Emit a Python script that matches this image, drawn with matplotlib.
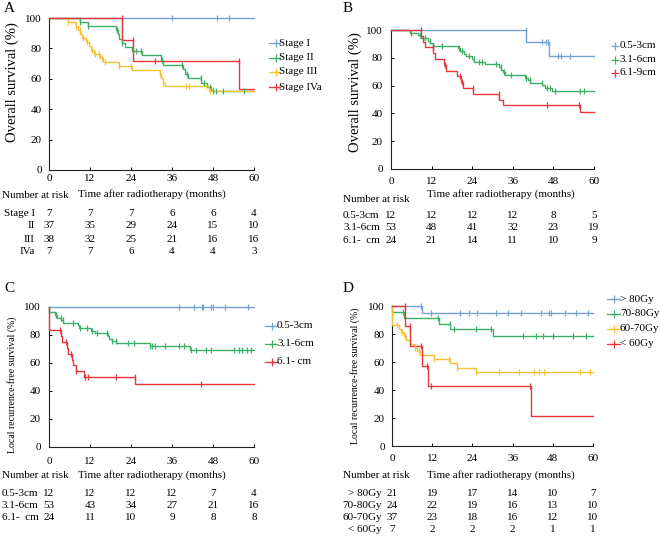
import numpy as np
import matplotlib
matplotlib.use('Agg')
import matplotlib.pyplot as plt
from matplotlib.transforms import blended_transform_factory as btf

plt.rcParams['font.family'] = ['Liberation Serif', 'DejaVu Serif']

W, H = 660, 539
BLUE = '#74a3d6'
GREEN = '#3cb066'
YELLOW = '#f6c232'
RED = '#e8363c'

months = [0, 12, 24, 36, 48, 60]
yticks = [0, 20, 40, 60, 80, 100]

# ---------------- Panel A: Overall survival by stage ----------------
a_labels = ['Stage I', 'Stage II', 'Stage III', 'Stage IVa']
a1_t = [0]
a1_s = [100]
a1_c = [36, 49.3, 52.7]
a2_t = [0, 9, 11.5, 19.7, 20.1, 20.5, 21.3, 22.2, 24.4, 27.3, 32.8, 33.3, 39.3, 39.9, 40.6, 44.6, 46.1, 47.3]
a2_s = [100, 97.3, 94.6, 91.9, 89.2, 86.5, 83.8, 81.1, 78.4, 75.7, 72.4, 69.4, 66.5, 63.4, 60.3, 57.5, 54.6, 51.8]
a2_c = [9, 11.5, 20, 21.5, 24.5, 25.5, 27, 33, 39, 40.5, 44.5, 45.5, 47, 48, 49, 51, 57]
a3_t = [0, 5.5, 7.8, 8.4, 9.1, 9.8, 10.7, 11.6, 12.3, 13.2, 14.8, 15.7, 20.5, 24.2, 32.4, 32.9, 33.4, 34.0, 46.8]
a3_s = [100, 97.4, 94.7, 92.1, 89.5, 86.8, 84.2, 81.6, 78.9, 76.3, 73.7, 71.1, 68.4, 65.8, 63.0, 60.2, 57.5, 55.0, 52.0]
a3_c = [5.5, 8, 9, 10, 11, 12.5, 13.5, 14.5, 15.5, 16.5, 20.5, 24, 32.5, 33.5, 40, 41, 46, 47]
a4_t = [0, 21.4, 24.6, 55.6]
a4_s = [100, 85.7, 71.4, 53.6]
a4_c = [21.3, 24.5, 31, 55.5]
a_risk_labels = ['Stage I', 'II', 'III', 'IVa']
a_risk = [[7, 7, 7, 6, 6, 4],
          [37, 35, 29, 24, 15, 10],
          [38, 32, 25, 21, 16, 16],
          [7, 7, 6, 4, 4, 3]]

# ---------------- Panel B: Overall survival by tumour size ----------------
b_labels = ['0.5-3cm', '3.1-6cm', '6.1-9cm']
b1_t = [0, 40, 46.7]
b1_s = [100, 91.7, 81.5]
b1_c = [39.9, 44.6, 45.9, 46.5, 49.4, 50.2, 52.8]
b2_t = [0, 5.6, 8.0, 9.0, 11.0, 11.6, 12.5, 19.8, 20.3, 21.5, 22.1, 24.0, 24.6, 27.8, 32.0, 32.6, 33.1, 33.8,
        39.7, 40.5, 41.2, 44.6, 45.6, 47.5]
b2_s = [100, 98.1, 96.2, 94.3, 92.4, 90.5, 88.6, 86.7, 84.8, 82.9, 81.0, 79.1, 77.2, 75.3, 73.4, 71.5, 69.6, 67.7,
        65.8, 63.9, 62.0, 60.1, 58.2, 56.3]
b2_c = [6, 8.5, 10, 11.5, 12.5, 15, 20, 21, 23, 24.5, 26, 27, 31, 32.5, 33.5, 35.5, 40, 41, 44.5, 46, 47, 48.5, 56, 57]
b3_t = [0, 9, 9.5, 10, 12.5, 13, 15.6, 16.2, 19.6, 20.6, 21.2, 24.3, 32, 33, 55.8]
b3_s = [100, 95.8, 91.7, 87.5, 83.3, 79.2, 75.0, 70.8, 66.7, 62.5, 58.3, 54.2, 50.0, 45.8, 41.2]
b3_c = [8.9, 12.4, 16, 20.5, 21, 24.2, 31.9, 46, 55.7]
b_risk_labels = ['0.5-3cm', '3.1-6cm', '6.1-  cm']
b_risk = [[12, 12, 12, 12, 8, 5],
          [53, 48, 41, 32, 23, 19],
          [24, 21, 14, 11, 10, 9]]

# ---------------- Panel C: Local recurrence-free survival by tumour size ----------------
c_labels = ['0.5-3cm', '3.1-6cm', '6.1- cm']
c1_t = [0]
c1_s = [100]
c1_c = [38, 42.5, 44.9, 45.1, 47.5, 48, 51.6, 58.2]
c2_t = [0, 0, 1.8, 2.3, 3.6, 4.2, 8.6, 8.8, 12.2, 13.5, 17.2, 17.6, 18.5, 19.6, 29.5, 41.3]
c2_s = [100, 96.2, 94.3, 92.5, 90.6, 88.7, 86.8, 84.9, 83.0, 81.1, 79.0, 77.0, 75.8, 74.6, 72.4, 69.5]
c2_c = [2, 3.5, 4, 7, 9, 11, 12.5, 14, 17, 18.5, 19.5, 23, 25, 29.5, 30, 31, 34, 38, 39.5, 41.5, 43, 46, 47.5,
        54, 55.5, 56.5, 58, 59]
c3_t = [0, 0, 3.4, 3.7, 5.2, 5.6, 6.6, 7.0, 7.8, 10.3, 25.2]
c3_s = [100, 83.3, 79.2, 75.0, 70.8, 66.7, 62.5, 58.3, 54.2, 50.0, 44.8]
c3_c = [3.3, 5.1, 6.5, 8, 10.5, 11.5, 19.5, 25.1, 44.5]
c_risk_labels = ['0.5-3cm', '3.1-6cm', '6.1-  cm']
c_risk = [[12, 12, 12, 12, 7, 4],
          [53, 43, 34, 27, 21, 16],
          [24, 11, 10, 9, 8, 8]]

# ---------------- Panel D: Local recurrence-free survival by dose ----------------
d_labels = ['> 80Gy', '70-80Gy', '60-70Gy', '< 60Gy']
d1_t = [0, 8.9]
d1_s = [100, 95.2]
d1_c = [8.8, 11.5, 20.3, 23, 25.5, 31, 34.5, 38.5, 44.5, 47, 47.5, 51.5, 55, 58.5]
d2_t = [0, 0, 3.5, 13.9, 17.4, 30]
d2_s = [100, 95.8, 91.7, 87.5, 83.3, 78.6]
d2_c = [3.4, 13.8, 17.3, 18.5, 25, 29.5, 39, 43, 45, 48, 54, 58]
d3_t = [0, 0, 2.2, 2.7, 3.5, 4.2, 5.5, 6.8, 7.5, 8.5, 12.4, 17.4, 19.5, 25]
d3_s = [100, 86.5, 83.8, 81.1, 78.4, 75.7, 73.0, 70.3, 67.6, 64.9, 62.0, 59.0, 55.8, 52.6]
d3_c = [1.5, 3, 4, 7, 8, 12.5, 17, 19.5, 25, 32, 38, 42.5, 44, 45.5, 56, 59]
d4_t = [0, 4.0, 5.5, 8.9, 10.6, 41.4]
d4_s = [100, 85.7, 71.4, 57.1, 42.9, 21.4]
d4_c = [3.9, 5.4, 8.8, 10.5, 11.5, 41.3]
d_risk_labels = ['> 80Gy', '70-80Gy', '60-70Gy', '< 60Gy']
d_risk = [[21, 19, 17, 14, 10, 7],
          [24, 22, 19, 16, 13, 10],
          [37, 23, 18, 16, 12, 10],
          [7, 2, 2, 2, 1, 1]]

fig = plt.figure(figsize=(W / 100, H / 100), dpi=100)
FS = 8


def fy(y):
    return 1 - y / H


def fx(x):
    return x / W


def make_ax(l, t, r, b, xpad, ypad):
    ax = fig.add_axes([l / W, 1 - b / H, (r - l) / W, (b - t) / H])
    ax.set_xlim(0, 60)
    ax.set_ylim(0, 100)
    ax.set_xticks(months)
    ax.set_yticks(yticks)
    for s in ['top', 'right']:
        ax.spines[s].set_visible(False)
    for s in ['left', 'bottom']:
        ax.spines[s].set_linewidth(0.8)
        ax.spines[s].set_color('#222222')
    ax.tick_params(axis='x', direction='in', length=2.5, width=0.7, labelsize=FS, pad=xpad)
    ax.tick_params(axis='y', direction='in', length=2.5, width=0.7, labelsize=FS, pad=ypad)
    ax.patch.set_alpha(0)
    return ax


def km(ax, t, s, c, color):
    tt = list(t) + [60]
    ss = list(s) + [s[-1]]
    ax.step(tt, ss, where='post', color=color, lw=1.0, clip_on=False, zorder=3)
    idx = np.searchsorted(np.array(t), np.array(c), side='right') - 1
    ax.plot(c, np.array(s)[idx], linestyle='none', marker='|', ms=5, mew=0.9, color=color,
            clip_on=False, zorder=4)


def legend(x0, x1, xm, xt, ys, labels, colors, line=True):
    for y, lab, col in zip(ys, labels, colors):
        if line:
            fig.add_artist(plt.Line2D([fx(x0), fx(x1)], [fy(y), fy(y)], color=col, lw=0.9,
                                      transform=fig.transFigure))
        fig.add_artist(plt.Line2D([fx(xm)], [fy(y)], color=col, marker='+', ms=6, mew=0.9,
                                  linestyle='none', transform=fig.transFigure))
        fig.text(fx(xt), fy(y), lab, fontsize=FS, va='center', ha='left')


def risk(ax, rows, labels, ys, lab_x, lab_ha):
    tr = btf(ax.transData, fig.transFigure)
    for row, lab, y in zip(rows, labels, ys):
        fig.text(fx(lab_x), fy(y), lab, fontsize=FS, ha=lab_ha, va='center')
        for m, v in zip(months, row):
            ax.text(m, fy(y), str(v), transform=tr, fontsize=FS, ha='center', va='center', clip_on=False)


# ---- Panel A ----
axA = make_ax(49, 18, 254, 170, 3, 5)
km(axA, a1_t, a1_s, a1_c, BLUE)
km(axA, a2_t, a2_s, a2_c, GREEN)
km(axA, a3_t, a3_s, a3_c, YELLOW)
km(axA, a4_t, a4_s, a4_c, RED)
fig.text(fx(12), fy(82), 'Overall survival (%)', rotation=90, fontsize=10.5, ha='center', va='center')
fig.text(fx(4), fy(8), 'A', fontsize=11, ha='left', va='center')
legend(269, 280, 276, 279, [43, 58, 72, 87], a_labels, [BLUE, GREEN, YELLOW, RED])
fig.text(fx(2), fy(195), 'Number at risk', fontsize=FS, ha='left', va='center')
fig.text(fx(152), fy(194), 'Time after radiotherapy (months)', fontsize=FS, ha='center', va='center')
risk(axA, a_risk, a_risk_labels, [213, 226, 239, 251.5], 34.5, 'right')

# ---- Panel B ----
axB = make_ax(391, 30, 594, 169, 6, 6)
km(axB, b1_t, b1_s, b1_c, BLUE)
km(axB, b2_t, b2_s, b2_c, GREEN)
km(axB, b3_t, b3_s, b3_c, RED)
fig.text(fx(355), fy(92), 'Overall survival (%)', rotation=90, fontsize=10.5, ha='center', va='center')
fig.text(fx(343), fy(8), 'B', fontsize=11, ha='left', va='center')
legend(0, 0, 615, 620, [45.7, 59.7, 72.7], b_labels, [BLUE, GREEN, RED], line=False)
fig.text(fx(343), fy(200), 'Number at risk', fontsize=FS, ha='left', va='center')
fig.text(fx(501), fy(194), 'Time after radiotherapy (months)', fontsize=FS, ha='center', va='center')
risk(axB, b_risk, b_risk_labels, [215, 227.5, 240.5], 343, 'left')

# ---- Panel C ----
axC = make_ax(49, 307, 254, 447, 7, 6)
km(axC, c1_t, c1_s, c1_c, BLUE)
km(axC, c2_t, c2_s, c2_c, GREEN)
km(axC, c3_t, c3_s, c3_c, RED)
fig.text(fx(12), fy(385), 'Local recurrence-free survival (%)', rotation=90, fontsize=7, ha='center', va='center')
fig.text(fx(4), fy(288), 'C', fontsize=11, ha='left', va='center')
legend(265, 277, 272, 277, [326, 344, 362], c_labels, [BLUE, GREEN, RED])
fig.text(fx(2), fy(475), 'Number at risk', fontsize=FS, ha='left', va='center')
fig.text(fx(152), fy(475), 'Time after radiotherapy (months)', fontsize=FS, ha='center', va='center')
risk(axC, c_risk, c_risk_labels, [493, 505, 517.5], 2, 'left')

# ---- Panel D ----
axD = make_ax(392, 306, 593, 446, 6, 5)
km(axD, d1_t, d1_s, d1_c, BLUE)
km(axD, d2_t, d2_s, d2_c, GREEN)
km(axD, d3_t, d3_s, d3_c, YELLOW)
km(axD, d4_t, d4_s, d4_c, RED)
fig.text(fx(355), fy(376), 'Local recurrence-free survival (%)', rotation=90, fontsize=7, ha='center', va='center')
fig.text(fx(343), fy(288), 'D', fontsize=11, ha='left', va='center')
legend(607, 620, 614, 620, [299, 313.5, 328.5, 344], d_labels, [BLUE, GREEN, YELLOW, RED])
fig.text(fx(343), fy(475), 'Number at risk', fontsize=FS, ha='left', va='center')
fig.text(fx(501), fy(475), 'Time after radiotherapy (months)', fontsize=FS, ha='center', va='center')
risk(axD, d_risk, d_risk_labels, [493, 505, 517.5, 530], 382, 'right')

fig.savefig('out.png', dpi=100)
